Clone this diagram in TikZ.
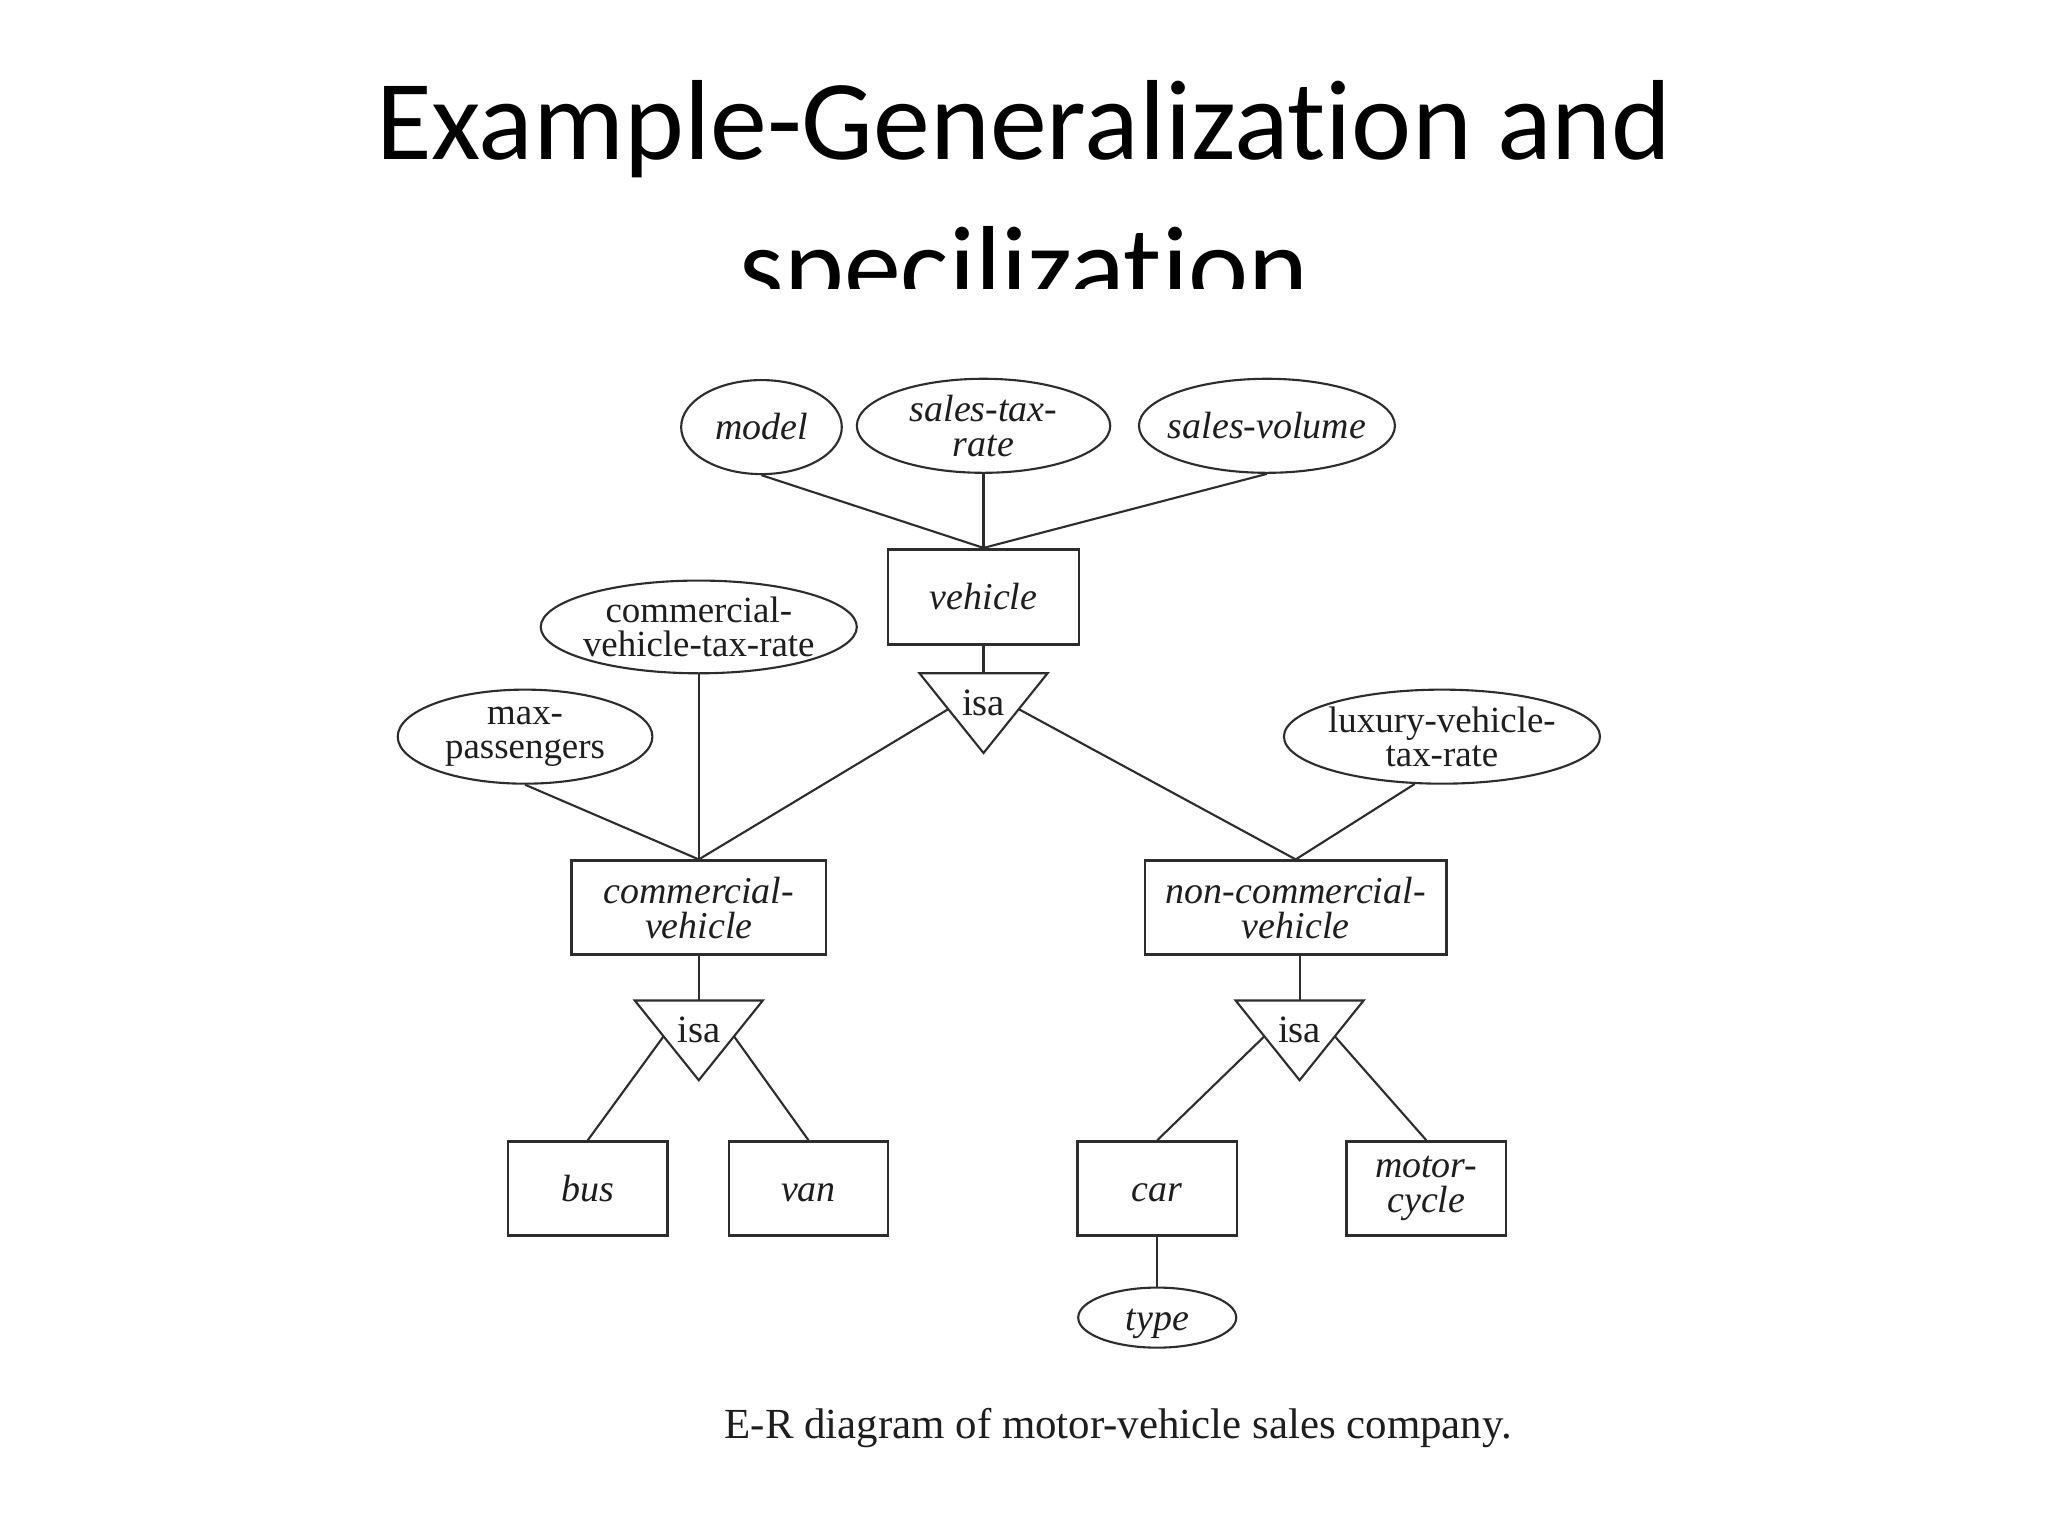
\documentclass[tikz,border=0pt]{standalone}
\usepackage{fontspec}
\setmainfont{Liberation Serif}
\newfontfamily\titlefont[Ligatures=NoCommon]{Carlito}
\usepackage{tikz}
\usetikzlibrary{shapes.geometric,calc,positioning}
\definecolor{LineGray}{RGB}{45,45,45}
\definecolor{TextGray}{RGB}{30,30,30}
\newcommand{\spx}{0.1306mm}

\begin{document}
\begin{tikzpicture}[
  x=0.1306mm, y=0.1306mm,
  title/.style={font={\titlefont\fontsize{32.4}{38}\selectfont}, inner sep=0pt, anchor=base},
  entity/.style={draw=LineGray, line width=0.75pt, rectangle, align=center, inner sep=0pt, minimum height=72*\spx, font={\fontsize{10.8}{10}\selectfont\itshape}, text=TextGray},
  attr/.style={draw=LineGray, line width=0.6pt, ellipse, align=center, inner sep=-3pt, minimum height=72*\spx, font={\fontsize{10.5}{9.8}\selectfont}, text=TextGray},
  iattr/.style={attr, font={\fontsize{10.8}{10}\selectfont\itshape}},
  oneline/.style={text height=8.5pt, text depth=1.3pt},
  isabox/.style={rectangle, inner sep=0pt, minimum width=97*\spx, minimum height=60*\spx, label={[font=\fontsize{11}{11}\selectfont, text=TextGray, yshift=8*\spx]center:isa}},
  edge/.style={draw=LineGray, line width=0.6pt}
]
\fill[white] (0,0) rectangle (1568,1176);
\useasboundingbox (0,0) rectangle (1568,1176);

% heading, cut off at the bottom
\begin{scope}
  \clip (0,955) rectangle (1568,1176);
  \node[title] (title1) at (784,1054) {Example-Generalization and};
  \node[title] (title2) at (784,942) {specilization};
\end{scope}

\node[iattr, oneline, minimum width=123*\spx] (model) at (583,849) {model};
\node[iattr, minimum width=194*\spx] (salestax) at (753,850) {sales-tax-\\rate};
\node[iattr, oneline, minimum width=196*\spx] (salesvol) at (970,850) {sales-volume};
\node[entity, oneline, minimum width=146*\spx, minimum height=73*\spx] (vehicle) at (753,719) {vehicle};
\node[isabox] (isaV) at (753,630) {};

\node[attr, minimum width=242*\spx, minimum height=71*\spx] (cvtax) at (535,696) {commercial-\\vehicle-tax-rate};
\node[attr, minimum width=195*\spx] (maxpass) at (402,612) {max-\\passengers};
\node[attr, minimum width=242*\spx] (luxtax) at (1104,612) {luxury-vehicle-\\tax-rate};

\node[entity, minimum width=195*\spx] (comveh) at (535,481) {commercial-\\vehicle};
\node[entity, minimum width=231*\spx] (noncom) at (992,481) {non-commercial-\\vehicle};
\node[isabox] (isaC) at (535,379.5) {};
\node[isabox] (isaN) at (995,379.5) {};

\node[entity, oneline, minimum width=122*\spx] (bus) at (450,266) {bus};
\node[entity, oneline, minimum width=122*\spx] (van) at (619,266) {van};
\node[entity, oneline, minimum width=122*\spx] (car) at (886,266) {car};
\node[entity, minimum width=122*\spx] (moto) at (1092,266) {motor-\\cycle};
\node[iattr, oneline, minimum width=121*\spx, minimum height=46*\spx, below=4.96mm of car] (type) {type};

% isa triangles
\foreach \t in {isaV,isaC,isaN} {
  \draw[edge] (\t.north west) -- (\t.north east) -- (\t.south) -- cycle;
  \coordinate (\t-l) at ($(\t.north west)!0.45!(\t.south)$);
  \coordinate (\t-r) at ($(\t.north east)!0.45!(\t.south)$);
}

\draw[edge] (model.south) -- (vehicle.north);
\draw[edge] (salestax) -- (vehicle.north);
\draw[edge] (salesvol.south) -- (vehicle.north);
\draw[edge] (vehicle) -- (isaV.north);
\draw[edge] (isaV-l) -- (comveh.north);
\draw[edge] (isaV-r) -- (noncom.north);
\draw[edge] (cvtax) -- (comveh.north);
\draw[edge] (maxpass.south) -- (comveh.north);
\draw[edge] (luxtax.240) -- (noncom.north);
\draw[edge] (comveh) -- (isaC.north);
\draw[edge] (isaN.north |- noncom.south) -- (isaN.north);
\draw[edge] (isaC-l) -- (bus.north);
\draw[edge] (isaC-r) -- (van.north);
\draw[edge] (isaN-l) -- (car.north);
\draw[edge] (isaN-r) -- (moto.north);
\draw[edge] (car) -- (type);

\node[font=\fontsize{12.2}{14}\selectfont, text=TextGray] (caption) at (856,83) {E-R diagram of motor-vehicle sales company.};
\end{tikzpicture}
\end{document}
